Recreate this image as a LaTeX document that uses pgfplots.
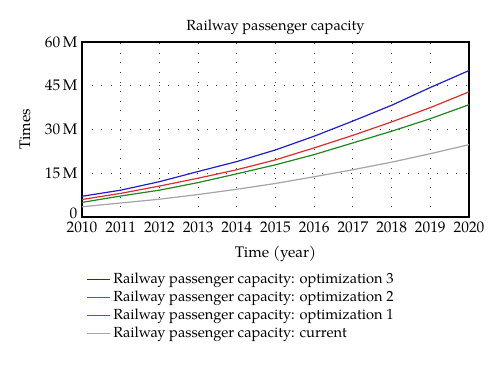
\documentclass[border=0pt]{standalone}
\usepackage{fontspec}
\setmainfont{TeX Gyre Pagella}
\usepackage{pgfplots}
\pgfplotsset{compat=1.18}
\definecolor{cblue}{RGB}{30,30,210}
\definecolor{cred}{RGB}{220,45,45}
\definecolor{cgreen}{RGB}{30,135,30}
\definecolor{cgray}{RGB}{165,165,165}
\newcommand{\lf}{\fontsize{11}{13}\selectfont}
\begin{document}
\begin{tikzpicture}
\path[use as bounding box] (-61.5pt,-114.75pt) rectangle (313.5pt,162.75pt);
\begin{axis}[
  at={(0,0)}, anchor=south west,
  scale only axis, width=290.25pt, height=131.25pt,
  xmin=2010, xmax=2020, ymin=0, ymax=60,
  xtick={2010,2011,...,2020},
  xticklabels={2010,2011,2012,2013,2014,2015,2016,2017,2018,2019,2020},
  ytick={0,15,30,45,60},
  yticklabels={\raisebox{5pt}{0},15\,M,30\,M,45\,M,\raisebox{-4.5pt}{60\,M}},
  major tick length=0pt,
  axis line style={line width=0.9pt},
  grid=major,
  major grid style={black!75, line width=0.7pt, dash pattern=on 0.7pt off 6.5pt},
  title={Railway passenger capacity},
  title style={font=\lf, yshift=-4pt},
  xlabel={Time (year)}, ylabel={Times},
  label style={font=\fontsize{11.5}{13}\selectfont},
  xlabel style={yshift=-3pt},
  ylabel style={yshift=4pt},
  tick label style={font=\fontsize{11.5}{13}\selectfont},
  /pgf/number format/assume math mode=true,
  legend style={at={(0,-0.29)}, anchor=north west, draw=none, row sep=0pt, font=\lf},
  legend cell align=left,
]
\addlegendimage{color=cblue, line width=1.2pt}
\addlegendentry{Railway passenger capacity: optimization 3}
\addlegendimage{color=cred, line width=1.2pt}
\addlegendentry{Railway passenger capacity: optimization 2}
\addlegendimage{color=cgreen, line width=1.2pt}
\addlegendentry{Railway passenger capacity: optimization 1}
\addlegendimage{color=cgray, line width=1.2pt}
\addlegendentry{Railway passenger capacity: current}
\addplot[color=cblue, line width=0.9pt, forget plot] coordinates {(2010,7.1)(2011,9.2)(2012,12.1)(2013,15.6)(2014,19.0)(2015,23.0)(2016,27.7)(2017,32.9)(2018,38.3)(2019,44.4)(2020,50.2)};
\addplot[color=cred, line width=0.9pt, forget plot] coordinates {(2010,6.0)(2011,8.1)(2012,10.6)(2013,13.3)(2014,16.2)(2015,19.6)(2016,23.7)(2017,28.0)(2018,32.6)(2019,37.5)(2020,42.9)};
\addplot[color=cgreen, line width=0.9pt, forget plot] coordinates {(2010,5.0)(2011,7.2)(2012,9.2)(2013,11.8)(2014,14.8)(2015,17.9)(2016,21.4)(2017,25.4)(2018,29.4)(2019,33.7)(2020,38.5)};
\addplot[color=cgray, line width=0.9pt, forget plot] coordinates {(2010,3.5)(2011,4.8)(2012,6.1)(2013,7.7)(2014,9.5)(2015,11.5)(2016,13.8)(2017,16.2)(2018,18.8)(2019,21.7)(2020,24.8)};
\end{axis}
\end{tikzpicture}
\end{document}
